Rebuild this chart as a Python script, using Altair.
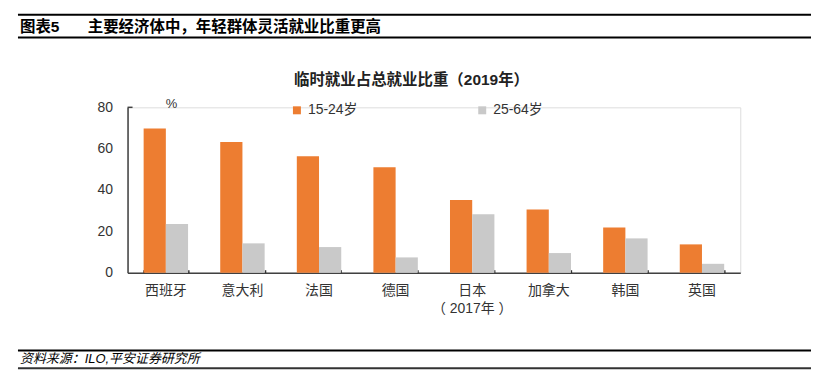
import altair as alt
import pandas as pd

countries = ["西班牙", "意大利", "法国", "德国", "日本", "加拿大", "韩国", "英国"]
series = ["15-24岁", "25-64岁"]
young = [69.7, 63.2, 56.3, 51.0, 35.2, 30.6, 21.9, 13.7]
older = [23.5, 14.2, 12.4, 7.4, 28.3, 9.5, 16.6, 4.3]
y_ticks = [0, 20, 40, 60, 80]
colors = ["#ED7D31", "#C9C9C9"]

header_tag = "图表5"
header_title = "主要经济体中，年轻群体灵活就业比重更高"
chart_title = "临时就业占总就业比重（2019年）"
unit_label = "%"
source_text = "资料来源：ILO,平安证券研究所"

rows = []
for c, a, b in zip(countries, young, older):
    rows.append({"country": c, "series": series[0], "value": a})
    rows.append({"country": c, "series": series[1], "value": b})
df = pd.DataFrame(rows)

FONT = "Liberation Sans, Noto Sans CJK SC"
W, H = 615, 166
PAD_L, PAD_T = 120, 99

xscale = alt.Scale(domain=countries, paddingInner=0.42, paddingOuter=0.21)
yscale = alt.Scale(domain=[0, 80], nice=False)

bars = alt.Chart(df).mark_bar().encode(
    x=alt.X("country:N", sort=countries, scale=xscale,
            axis=alt.Axis(orient="bottom", title=None, labelAngle=0, ticks=False,
                          domainColor="#404040", domainWidth=1.5,
                          labelFont=FONT, labelFontSize=14, labelColor="#333333",
                          labelPadding=11, labelLineHeight=18,
                          labelExpr="datum.label == '日本' ? ['日本', '（ 2017年 ）'] : datum.label")),
    xOffset=alt.XOffset("series:N", sort=series),
    y=alt.Y("value:Q", scale=yscale,
            axis=alt.Axis(title=None, values=y_ticks, grid=False, ticks=False,
                          domainColor="#404040", domainWidth=1.5,
                          labelFont=FONT, labelFontSize=14, labelColor="#333333",
                          labelPadding=15)),
    color=alt.Color("series:N", sort=series,
                    scale=alt.Scale(domain=series, range=colors),
                    legend=alt.Legend(orient="none", legendX=163, legendY=-4,
                                      direction="horizontal", title=None,
                                      symbolType="square", symbolSize=64,
                                      symbolStrokeWidth=0, labelFont=FONT,
                                      labelFontSize=14, labelColor="#333333",
                                      labelOffset=4, columnPadding=118, padding=0)),
)

tick_layer = alt.Chart(df).mark_bar(opacity=0).encode(
    x=alt.X("country:N", sort=countries, scale=xscale,
            axis=alt.Axis(orient="top", offset=-H, labels=False, domain=False,
                          ticks=True, tickBand="extent", tickSize=3,
                          tickColor="#333333", tickWidth=1.5, title=None)),
    y=alt.Y("value:Q", scale=yscale),
)

def txt(text, x, y, size, weight="normal", align="left", style="normal", color="#000000"):
    return alt.Chart(pd.DataFrame({"t": [text]})).mark_text(
        align=align, baseline="middle", font=FONT, fontSize=size,
        fontWeight=weight, fontStyle=style, color=color,
    ).encode(text="t:N", x=alt.value(x), y=alt.value(y))

def hrule(y, x1, x2, width, color="#000000"):
    return alt.Chart(pd.DataFrame({"a": [0]})).mark_rule(
        color=color, strokeWidth=width
    ).encode(x=alt.value(x1), x2=alt.value(x2), y=alt.value(y))

ox, oy = 128, 107  # page position of plot origin

decor = [
    hrule(14 - oy, 18 - ox, 814 - ox, 2),
    hrule(37 - oy, 18 - ox, 814 - ox, 2),
    txt(header_tag, 20 - ox, 26 - oy, 15.5, weight="bold"),
    txt(header_title, 88 - ox, 26 - oy, 15.5, weight="bold"),
    txt(chart_title, 413 - ox, 80 - oy, 15.5, weight="bold", align="center", color="#222222"),
    txt(unit_label, 172 - ox, 104 - oy, 13, color="#333333", align="center"),
    hrule(351 - oy, 18 - ox, 814 - ox, 2),
    hrule(369 - oy, 18 - ox, 814 - ox, 2, color="#333333"),
    txt(source_text, 20 - ox, 360 - oy, 13, style="italic"),
    alt.Chart(pd.DataFrame({"a": [0]})).mark_rule(color="#404040", strokeWidth=1.5).encode(
        x=alt.value(0), x2=alt.value(5), y=alt.value(0)),
]

chart = alt.layer(bars, tick_layer, *decor).properties(
    width=W, height=H,
    autosize=alt.AutoSizeParams(type="none"),
    padding={"left": PAD_L, "top": PAD_T, "right": 71, "bottom": 105},
).configure_view(stroke=None).configure(background="white")

chart.save("out.html", embed_options={"renderer": "svg", "actions": False})
